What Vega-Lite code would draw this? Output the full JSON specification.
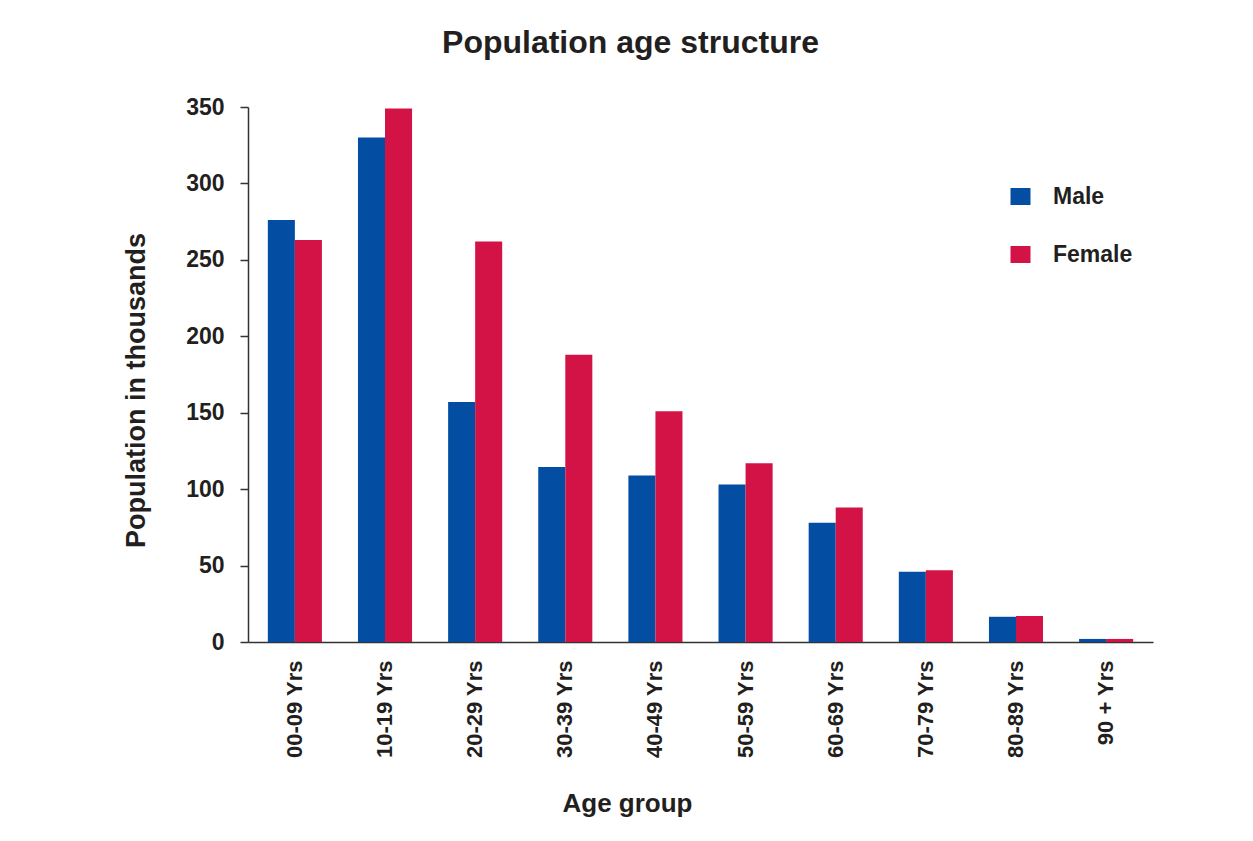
{
  "$schema": "https://vega.github.io/schema/vega-lite/v6.json",
  "autosize": "none",
  "width": 905,
  "height": 535,
  "padding": {"left": 248, "top": 107, "right": 100, "bottom": 199},
  "background": "white",
  "title": {
    "text": "Population age structure",
    "anchor": "middle",
    "dx": -70,
    "offset": 36,
    "fontSize": 32,
    "font": "Liberation Sans",
    "fontWeight": "bold",
    "color": "#231f20"
  },
  "data": {
    "values": [
      {"age": "00-09 Yrs", "sex": "Male", "value": 276},
      {"age": "00-09 Yrs", "sex": "Female", "value": 263},
      {"age": "10-19 Yrs", "sex": "Male", "value": 330},
      {"age": "10-19 Yrs", "sex": "Female", "value": 349},
      {"age": "20-29 Yrs", "sex": "Male", "value": 157},
      {"age": "20-29 Yrs", "sex": "Female", "value": 262},
      {"age": "30-39 Yrs", "sex": "Male", "value": 114.5},
      {"age": "30-39 Yrs", "sex": "Female", "value": 188},
      {"age": "40-49 Yrs", "sex": "Male", "value": 109},
      {"age": "40-49 Yrs", "sex": "Female", "value": 151},
      {"age": "50-59 Yrs", "sex": "Male", "value": 103},
      {"age": "50-59 Yrs", "sex": "Female", "value": 117},
      {"age": "60-69 Yrs", "sex": "Male", "value": 78},
      {"age": "60-69 Yrs", "sex": "Female", "value": 88},
      {"age": "70-79 Yrs", "sex": "Male", "value": 46},
      {"age": "70-79 Yrs", "sex": "Female", "value": 47},
      {"age": "80-89 Yrs", "sex": "Male", "value": 16.5},
      {"age": "80-89 Yrs", "sex": "Female", "value": 17},
      {"age": "90 + Yrs", "sex": "Male", "value": 2},
      {"age": "90 + Yrs", "sex": "Female", "value": 2}
    ]
  },
  "mark": {"type": "bar"},
  "encoding": {
    "x": {
      "field": "age",
      "type": "nominal",
      "sort": null,
      "scale": {"paddingInner": 0.4, "paddingOuter": 0.22},
      "axis": {
        "title": "Age group",
        "titleFontSize": 26,
        "titleFont": "Liberation Sans",
        "titleFontWeight": "bold",
        "titleColor": "#231f20",
        "titleX": 379,
        "titleY": 161,
        "titleAlign": "center",
        "titleBaseline": "middle",
        "labelAngle": -90,
        "labelFontSize": 22,
        "labelFont": "Liberation Sans",
        "labelFontWeight": "bold",
        "labelColor": "#231f20",
        "labelPadding": 18,
        "ticks": false,
        "tickSize": 0,
        "domainColor": "#333333",
        "domainWidth": 1.5
      }
    },
    "xOffset": {
      "field": "sex",
      "type": "nominal",
      "sort": ["Male", "Female"],
      "scale": {"paddingInner": 0, "paddingOuter": 0}
    },
    "y": {
      "field": "value",
      "type": "quantitative",
      "scale": {"domain": [0, 350], "nice": false},
      "axis": {
        "title": "Population in thousands",
        "titleFontSize": 27,
        "titleFont": "Liberation Sans",
        "titleFontWeight": "bold",
        "titleColor": "#231f20",
        "titleX": -112,
        "titleY": 283,
        "titleAngle": -90,
        "titleAlign": "center",
        "titleBaseline": "middle",
        "values": [0, 50, 100, 150, 200, 250, 300, 350],
        "grid": false,
        "labelFontSize": 23,
        "labelFont": "Liberation Sans",
        "labelFontWeight": "bold",
        "labelColor": "#231f20",
        "labelPadding": 16,
        "tickSize": 8,
        "tickColor": "#333333",
        "tickWidth": 1.5,
        "domainColor": "#333333",
        "domainWidth": 1.5
      }
    },
    "color": {
      "field": "sex",
      "type": "nominal",
      "sort": ["Male", "Female"],
      "scale": {"domain": ["Male", "Female"], "range": ["#034EA2", "#D31245"]},
      "legend": {
        "title": null,
        "orient": "none",
        "legendX": 761,
        "legendY": 78,
        "symbolType": "M-1,-0.85H1V0.85H-1Z",
        "symbolSize": 400,
        "symbolStrokeWidth": 0,
        "labelFontSize": 23,
        "labelFont": "Liberation Sans",
        "labelFontWeight": "bold",
        "labelColor": "#231f20",
        "labelOffset": 21,
        "rowPadding": 34
      }
    }
  },
  "config": {
    "view": {"stroke": null}
  }
}
